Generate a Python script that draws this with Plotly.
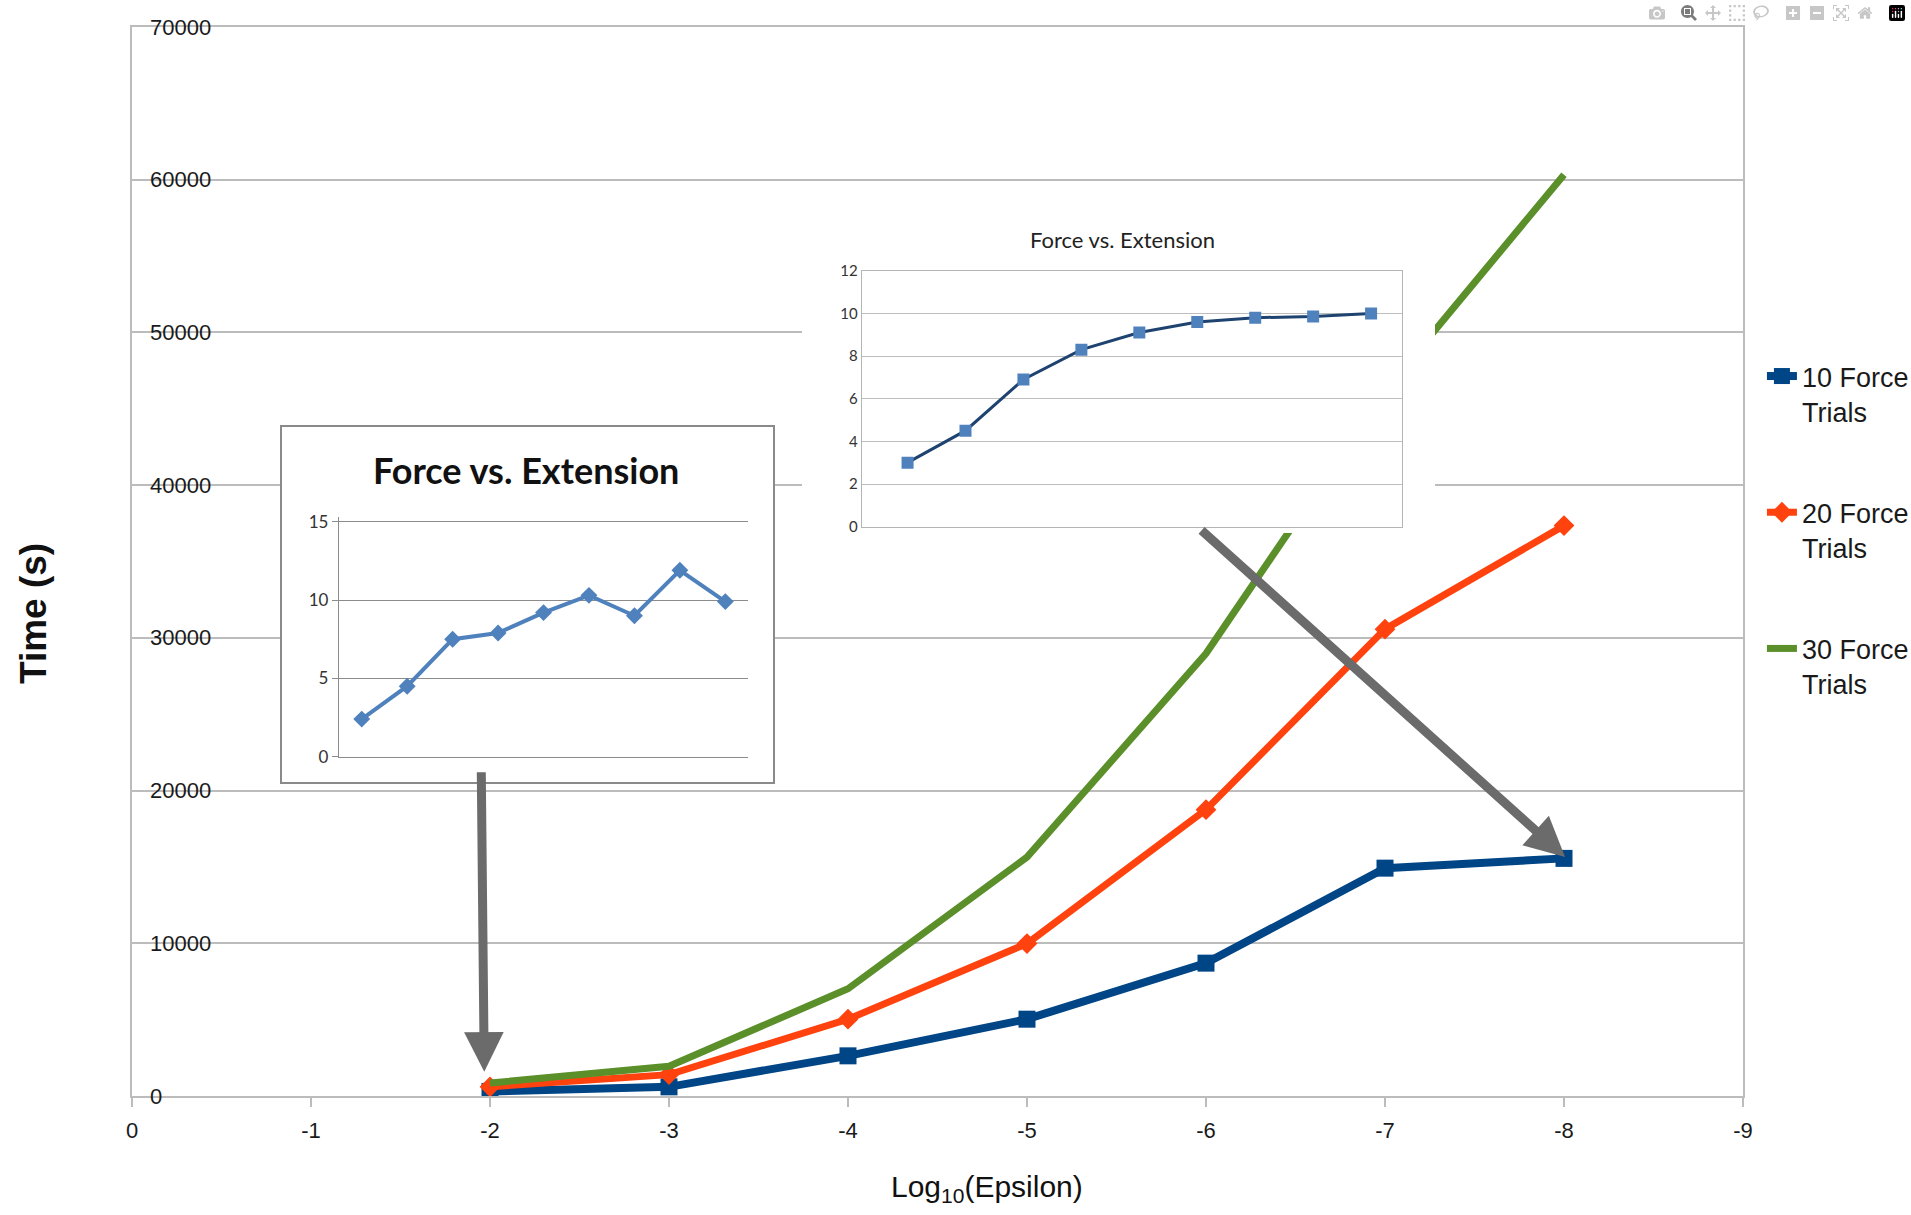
import plotly.graph_objects as go

# ---------------- data ----------------
log_epsilon = [-2, -3, -4, -5, -6, -7, -8]
trials_10 = [300, 600, 2630, 5030, 8700, 14920, 15560]
trials_20 = [600, 1400, 5030, 9980, 18750, 30570, 37350]
trials_30 = [850, 1950, 7020, 15640, 28970, 46200, 60330]
series_names = ["10 Force<br>Trials", "20 Force<br>Trials", "30 Force<br>Trials"]

x_tick_vals = [0, -1, -2, -3, -4, -5, -6, -7, -8, -9]
x_tick_text = ["0", "-1", "-2", "-3", "-4", "-5", "-6", "-7", "-8", "-9"]
y_tick_vals = [0, 10000, 20000, 30000, 40000, 50000, 60000, 70000]
y_tick_text = ["0", "10000", "20000", "30000", "40000", "50000", "60000", "70000"]

# inset 1 (bold title)
inset1_index = [0, 1, 2, 3, 4, 5, 6, 7, 8]
inset1_force = [2.4, 4.5, 7.5, 7.9, 9.2, 10.3, 9.0, 11.9, 9.9]
inset1_ticks = [0, 5, 10, 15]
# inset 2
inset2_index = [0, 1, 2, 3, 4, 5, 6, 7, 8]
inset2_force = [3.0, 4.5, 6.9, 8.3, 9.1, 9.6, 9.8, 9.85, 10.0]
inset2_ticks = [0, 2, 4, 6, 8, 10, 12]

inset_title = "Force vs. Extension"

SANS = "Liberation Sans, Arial, sans-serif"
CAL = "Lato, Carlito, Calibri, Open Sans, sans-serif"

fig = go.Figure()

# main series
fig.add_trace(go.Scatter(x=log_epsilon, y=trials_10, name=series_names[0], mode="lines+markers",
                         line=dict(color="#004586", width=8),
                         marker=dict(symbol="square", size=17, color="#004586"),
                         legendgroup="a"))
fig.add_trace(go.Scatter(x=log_epsilon, y=trials_20, name=series_names[1], mode="lines+markers",
                         line=dict(color="#FF420E", width=7),
                         marker=dict(symbol="diamond", size=16, color="#FF420E"),
                         legendgroup="b"))
fig.add_trace(go.Scatter(x=log_epsilon, y=trials_30, name=series_names[2], mode="lines",
                         line=dict(color="#5A8F2A", width=7),
                         legendgroup="c"))

# empty traces so that the white inset frames exist as subplots
fig.add_trace(go.Scatter(x=[], y=[], xaxis="x2", yaxis="y2", showlegend=False, hoverinfo="skip"))
fig.add_trace(go.Scatter(x=[], y=[], xaxis="x4", yaxis="y4", showlegend=False, hoverinfo="skip"))

# inset 1 trace
fig.add_trace(go.Scatter(x=inset1_index, y=inset1_force, mode="lines+markers",
                         xaxis="x3", yaxis="y3", showlegend=False,
                         line=dict(color="#4F81BD", width=4),
                         marker=dict(symbol="diamond", size=13, color="#4F81BD")))
# inset 2 trace
fig.add_trace(go.Scatter(x=inset2_index, y=inset2_force, mode="lines+markers",
                         xaxis="x5", yaxis="y5", showlegend=False,
                         line=dict(color="#1F4370", width=3),
                         marker=dict(symbol="square", size=12, color="#4F81BD")))

grid_main = "#bcbcbc"

layout = dict(
    width=1911, height=1215,
    margin=dict(l=132, r=168, t=27, b=119, autoexpand=False),
    paper_bgcolor="white", plot_bgcolor="white",
    showlegend=True,
    legend=dict(xref="container", yref="container", x=0.922, xanchor="left", y=0.7103, yanchor="top",
                font=dict(family=SANS, size=27, color="#1a1a1a"),
                traceorder="grouped", tracegroupgap=63, valign="top",
                itemwidth=30, bgcolor="rgba(0,0,0,0)"),
    xaxis=dict(domain=[0, 1], range=[0, -9], tickvals=x_tick_vals, ticktext=x_tick_text,
               showgrid=False, zeroline=False, showline=True, linecolor=grid_main, linewidth=2,
               mirror=True, ticks="outside", ticklen=9, tickcolor=grid_main, tickwidth=1.5,
               tickfont=dict(family=SANS, size=22, color="#1a1a1a"), ticklabelstandoff=5),
    yaxis=dict(domain=[0, 1], range=[0, 70000], tickvals=y_tick_vals,
               showgrid=True, gridcolor=grid_main, gridwidth=2, zeroline=False,
               showline=True, linecolor=grid_main, linewidth=2, mirror=True, ticks="",
               showticklabels=False),
    # inset 1 frame
    xaxis2=dict(domain=[0.0929, 0.3981], anchor="y2", range=[0, 1], showgrid=False, zeroline=False,
                showticklabels=False, ticks="", showline=True, mirror=True, linecolor="#8a8a8a", linewidth=1.5),
    yaxis2=dict(domain=[0.2940, 0.6255], anchor="x2", range=[0, 1], showgrid=False, zeroline=False,
                showticklabels=False, ticks="", showline=True, mirror=True, linecolor="#8a8a8a", linewidth=1.5),
    # inset 1 plot
    xaxis3=dict(domain=[0.1285, 0.3824], anchor="y3", range=[-0.5, 8.5], showgrid=False, zeroline=False,
                showticklabels=False, ticks="", showline=True, linecolor="#8c8c8c", linewidth=1.3),
    yaxis3=dict(domain=[0.3174, 0.5416], anchor="x3", range=[0, 15.3], tickvals=inset1_ticks,
                showgrid=True, gridcolor="#8c8c8c", gridwidth=1.3, zeroline=False,
                showline=True, linecolor="#8c8c8c", linewidth=1.3, ticks="outside", ticklen=6,
                tickcolor="#8c8c8c", tickfont=dict(family=CAL, size=17, color="#333333")),
    # inset 2 frame
    xaxis4=dict(domain=[0.4159, 0.8088], anchor="y4", range=[0, 1], visible=False),
    yaxis4=dict(domain=[0.5267, 0.8382], anchor="x4", range=[0, 1], visible=False),
    # inset 2 plot
    xaxis5=dict(domain=[0.4530, 0.7882], anchor="y5", range=[-0.79, 8.53], showgrid=False, zeroline=False,
                showticklabels=False, ticks="", showline=True, mirror=True, linecolor="#b5b5b5", linewidth=1.3),
    yaxis5=dict(domain=[0.5326, 0.7720], anchor="x5", range=[0, 12], tickvals=inset2_ticks,
                showgrid=True, gridcolor="#bdbdbd", gridwidth=1.3, zeroline=False,
                showline=True, mirror=True, linecolor="#b5b5b5", linewidth=1.3, ticks="",
                tickfont=dict(family=CAL, size=15, color="#333333")),
)
fig.update_layout(**layout)

annotations = []
# main y tick labels, drawn just inside the y axis
for v, t in zip(y_tick_vals, y_tick_text):
    annotations.append(dict(text=t, xref="paper", yref="y", x=0, y=v, xanchor="left", yanchor="middle",
                            xshift=16, showarrow=False, font=dict(family=SANS, size=22, color="#1a1a1a")))

annotations += [
    dict(text="<b>Time (s)</b>", xref="paper", yref="paper", x=-0.0608, y=0.4509,
         xanchor="center", yanchor="middle",
         textangle=-90, showarrow=False, font=dict(family=SANS, size=37, color="#111111")),
    dict(text="Log<sub>10</sub>(Epsilon)", xref="paper", yref="paper", x=0.5307, y=-0.0861,
         xanchor="center", yanchor="middle",
         showarrow=False, font=dict(family=SANS, size=30, color="#111111")),
    dict(text="<b>" + inset_title + "</b>", xref="paper", yref="paper", x=0.2444, y=0.5856,
         xanchor="center", yanchor="middle",
         showarrow=False, font=dict(family=CAL, size=36, color="#111111")),
    dict(text=inset_title, xref="paper", yref="paper", x=0.6148, y=0.8008,
         xanchor="center", yanchor="middle",
         showarrow=False, font=dict(family=CAL, size=22, color="#222222")),
    # arrows
    dict(text="", x=-1.968, y=1590, xref="x", yref="y", ax=-3, ay=-301, axref="pixel", ayref="pixel",
         showarrow=True, arrowhead=2, arrowwidth=9, arrowsize=0.88, arrowcolor="#6b6b6b", standoff=0),
    dict(text="", x=-8.006, y=15650, xref="x", yref="y", ax=-365, ay=-328, axref="pixel", ayref="pixel",
         showarrow=True, arrowhead=2, arrowwidth=9, arrowsize=0.88, arrowcolor="#6b6b6b", standoff=0),
]
fig.update_layout(annotations=annotations)

fig.write_html("out.html", post_script="document.body.style.margin='0';")
